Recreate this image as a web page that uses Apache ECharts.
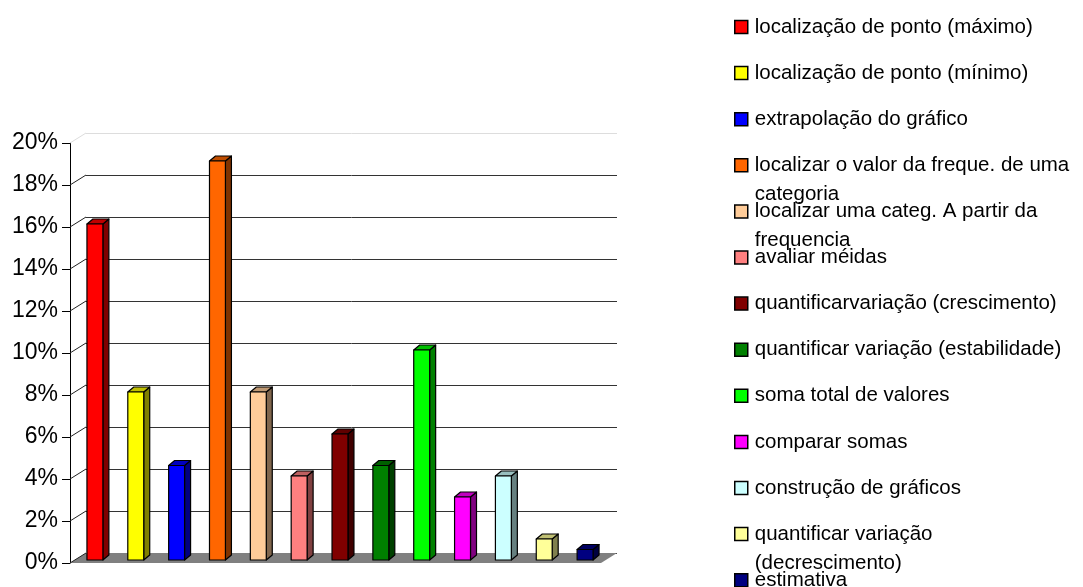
<!DOCTYPE html>
<html lang="pt">
<head>
	<meta charset="UTF-8">
	<title>Tipos de tarefa</title>
	<script src="https://cdn.jsdelivr.net/npm/echarts@6/dist/echarts.min.js"></script>
</head>
<body style="margin:0;background:#fff">
	<div id="main" style="width:1083px;height:587px;"></div>
	<script type="text/javascript">
	// categorias (nomes das series / legenda)
	var categorias = [
		'localização de ponto (máximo)',
		'localização de ponto (mínimo)',
		'extrapolação do gráfico',
		'localizar o valor da freque. de uma categoria',
		'localizar uma categ. A partir da frequencia',
		'avaliar méidas',
		'quantificarvariação (crescimento)',
		'quantificar variação (estabilidade)',
		'soma total de valores',
		'comparar somas',
		'construção de gráficos',
		'quantificar variação (decrescimento)',
		'estimativa'
	];
	// texto da legenda com as quebras de linha do original
	var rotulosLegenda = [
		'localização de ponto (máximo)',
		'localização de ponto (mínimo)',
		'extrapolação do gráfico',
		'localizar o valor da freque. de uma\ncategoria',
		'localizar uma categ. A partir da\nfrequencia',
		'avaliar méidas',
		'quantificarvariação (crescimento)',
		'quantificar variação (estabilidade)',
		'soma total de valores',
		'comparar somas',
		'construção de gráficos',
		'quantificar variação\n(decrescimento)',
		'estimativa'
	];
	// valores em %
	var valores = [16, 8, 4.5, 19, 8, 4, 6, 4.5, 10, 3, 4, 1, 0.5];
	// marcas do eixo y (%)
	var ticksY = [0, 2, 4, 6, 8, 10, 12, 14, 16, 18, 20];

	var cores = ['#ff0000', '#ffff00', '#0000ff', '#ff6600', '#ffcc99', '#ff8080',
		'#800000', '#008000', '#00ff00', '#ff00ff', '#ccffff', '#ffff99', '#000080'];

	var FONTE = "'Liberation Sans', Arial, sans-serif";
	// deslocamento da parede do fundo (efeito 3d)
	var PX = 16, PY = -10;

	function escurecer(hex, f) {
		var n = parseInt(hex.slice(1), 16);
		var r = Math.round(((n >> 16) & 255) * f);
		var g = Math.round(((n >> 8) & 255) * f);
		var b = Math.round((n & 255) * f);
		return 'rgb(' + r + ',' + g + ',' + b + ')';
	}

	var myChart = echarts.init(document.getElementById('main'));

	var series = [];

	// chao cinza
	series.push({
		type: 'custom',
		silent: true,
		data: [[0, 0]],
		renderItem: function (params, api) {
			var cs = params.coordSys;
			var y0 = api.coord([0, 0])[1];
			return {
				type: 'polygon',
				shape: { points: [[cs.x, y0], [cs.x + cs.width, y0], [cs.x + cs.width + PX, y0 + PY], [cs.x + PX, y0 + PY]] },
				style: { fill: '#808080' }
			};
		}
	});

	// ligacoes diagonais entre o eixo e a parede
	series.push({
		type: 'custom',
		silent: true,
		data: ticksY.map(function (v) { return [0, v]; }),
		renderItem: function (params, api) {
			var cs = params.coordSys;
			var y = api.coord([0, api.value(1)])[1];
			var topo = api.value(1) === 20;
			return {
				type: 'line',
				shape: { x1: cs.x, y1: y, x2: cs.x + PX, y2: y + PY },
				style: { stroke: topo ? '#dddddd' : '#222', lineWidth: 1 }
			};
		}
	});

	// uma serie por categoria, barra em caixa 3d
	categorias.forEach(function (nome, i) {
		var cor = cores[i];
		series.push({
			name: nome,
			type: 'custom',
			itemStyle: { color: cor },
			data: [[i, valores[i]]],
			renderItem: function (params, api) {
				var topoP = api.coord([api.value(0), api.value(1)]);
				var baseP = api.coord([api.value(0), 0]);
				var banda = api.size([1, 0])[0];
				var L = topoP[0] - banda * 0.085;
				var R = L + banda * 0.39;
				var yb = baseP[1] - 3, yt = topoP[1] - 3;
				var dx = 6, dy = -5;
				var borda = { stroke: '#000', lineWidth: 1.2, lineJoin: 'round' };
				return {
					type: 'group',
					children: [
						{ type: 'polygon', shape: { points: [[R, yb], [R + dx, yb + dy], [R + dx, yt + dy], [R, yt]] },
							style: Object.assign({ fill: escurecer(cor, 0.5) }, borda) },
						{ type: 'polygon', shape: { points: [[L, yt], [R, yt], [R + dx, yt + dy], [L + dx, yt + dy]] },
							style: Object.assign({ fill: escurecer(cor, 0.75) }, borda) },
						{ type: 'rect', shape: { x: L, y: yt, width: R - L, height: yb - yt },
							style: Object.assign({ fill: cor }, borda) }
					]
				};
			}
		});
	});

	// uma legenda por item, espaçamento fixo como no original
	// (itens de duas linhas levam uma linha vazia antes, para a 1a linha ficar na altura do marcador)
	var ALTURA_LINHA = 29;
	var legendas = categorias.map(function (nome, i) {
		var duasLinhas = rotulosLegenda[i].indexOf('\n') >= 0;
		var topoMarcador = 20.5 + 46.1 * i;
		var topoCaixa = duasLinhas ? 6.5 - 1.5 * ALTURA_LINHA : 6.5 - ALTURA_LINHA / 2;
		return {
			orient: 'vertical',
			left: 734,
			top: topoMarcador + topoCaixa,
			padding: 0,
			itemWidth: 13,
			itemHeight: 13,
			icon: 'rect',
			data: [nome],
			itemStyle: { borderColor: '#000', borderWidth: 1.5 },
			formatter: function (n) {
				var t = rotulosLegenda[categorias.indexOf(n)];
				return t.indexOf('\n') >= 0 ? '\n' + t : t;
			},
			textStyle: {
				fontFamily: FONTE, fontSize: 20.5, color: '#000', lineHeight: ALTURA_LINHA,
				padding: [0, 0, 0, 2]
			}
		};
	});

	var linhasGrade = ticksY.map(function (v) { return v === 20 ? '#dddddd' : '#333'; });

	var option = {
		animation: false,
		backgroundColor: '#fff',
		textStyle: { fontFamily: FONTE },
		legend: legendas,
		grid: [
			// plano da frente (eixo)
			{ left: 70, right: 482, top: 143, bottom: 24 },
			// parede do fundo (linhas de grade)
			{ left: 70 + PX, right: 482 - PX, top: 143 + PY, bottom: 24 - PY }
		],
		xAxis: [
			{ type: 'category', gridIndex: 0, data: categorias, axisLine: { show: false }, axisTick: { show: false }, axisLabel: { show: false } },
			{ type: 'category', gridIndex: 1, data: categorias, axisLine: { show: false }, axisTick: { show: false }, axisLabel: { show: false } }
		],
		yAxis: [
			{
				type: 'value', gridIndex: 0, min: 0, max: 20, interval: 2,
				axisLine: { show: true, lineStyle: { color: '#000', width: 1 } },
				axisTick: { show: true, length: 8, lineStyle: { color: '#000' } },
				axisLabel: { formatter: '{value}%', color: '#000', fontSize: 23, fontFamily: FONTE, margin: 12 },
				splitLine: { show: false }
			},
			{
				type: 'value', gridIndex: 1, min: 0, max: 20, interval: 2,
				axisLine: { show: false }, axisTick: { show: false }, axisLabel: { show: false },
				splitLine: { show: true, lineStyle: { color: linhasGrade, width: 1 } }
			}
		],
		series: series
	};

	myChart.setOption(option);
	</script>
</body>
</html>
